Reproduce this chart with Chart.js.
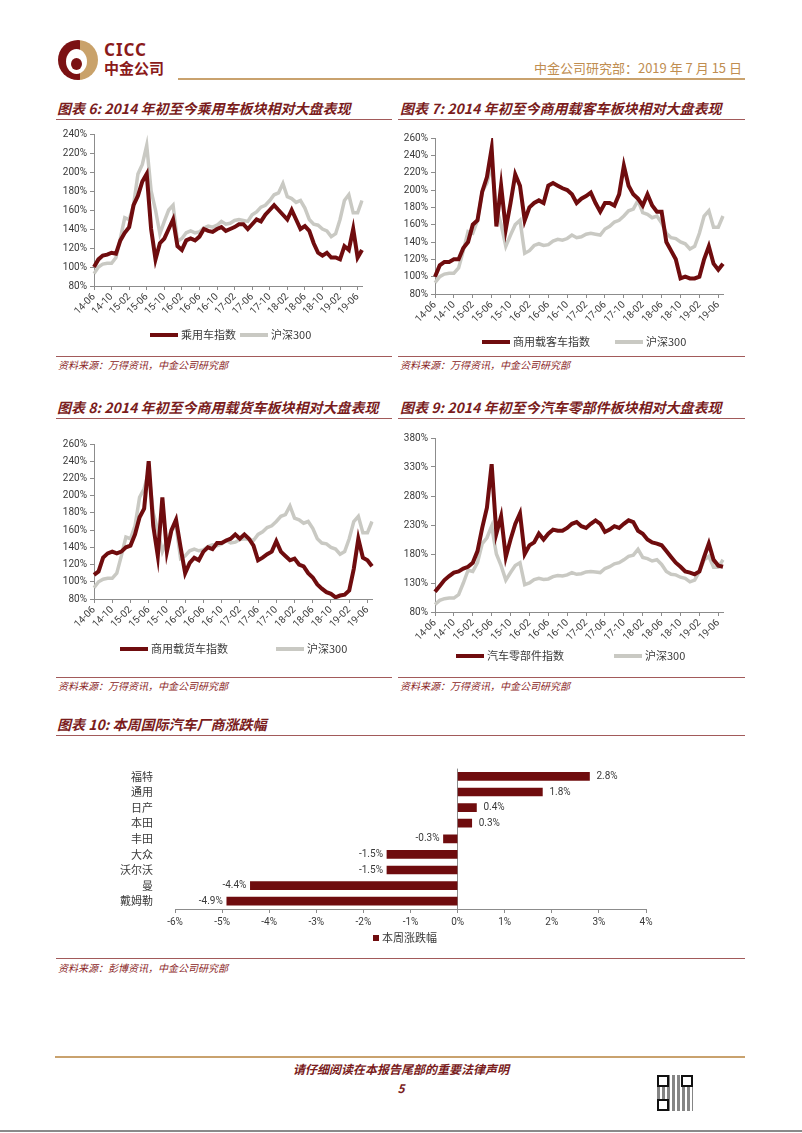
<!DOCTYPE html>
<html>
<head>
<meta charset="utf-8">
<script src="https://cdn.jsdelivr.net/npm/chart.js@4.4.0/dist/chart.umd.min.js"></script>
<style>
  body { margin: 0; width: 802px; height: 1133px; position: relative; background: #fff; overflow: hidden;
         font-family: "Noto Sans CJK SC", "Noto Sans", sans-serif; }
  .abs { position: absolute; }
  .title { position: absolute; font-size: 14px; font-style: italic; font-weight: bold; color: #7a1c1c; white-space: nowrap; line-height: 18px; }
  .rule { position: absolute; height: 1px; background: #a25a5a; }
  .src { position: absolute; font-size: 10px; font-style: italic; color: #8a2525; white-space: nowrap; line-height: 14px; }
  .box { position: absolute; }
</style>
</head>
<body>

<!-- header -->
<div class="abs" style="left:58px;top:40px;width:40px;height:40px;border-radius:50%;background:linear-gradient(90deg,#7b1113 0 55%,#c9a26a 55% 100%)"></div>
<div class="abs" style="left:66px;top:49px;width:21px;height:25px;border-radius:50%;background:#fff"></div>
<div class="abs" style="left:71px;top:58px;width:11px;height:12px;border-radius:50%;background:#7b1113"></div>
<div class="abs" style="left:104px;top:38px;font:bold 17px 'Noto Sans','Noto Sans CJK SC';color:#8b1a1a;letter-spacing:1px">CICC</div>
<div class="abs" style="left:104px;top:57px;font:bold 15px 'Noto Sans CJK SC';color:#8b1a1a">中金公司</div>
<div class="abs" style="right:60px;top:58px;font-size:13px;color:#c08d50;white-space:nowrap">中金公司研究部：2019 年 7 月 15 日</div>
<div class="abs" style="left:178px;top:78px;width:567px;height:2px;background:#c9a26e"></div>

<!-- titles and rules -->
<div class="title" style="left:57px;top:99px">图表 6: 2014 年初至今乘用车板块相对大盘表现</div>
<div class="rule" style="left:56px;top:119px;width:336px"></div>
<div class="title" style="left:400px;top:99px">图表 7: 2014 年初至今商用载客车板块相对大盘表现</div>
<div class="rule" style="left:398px;top:119px;width:347px"></div>

<div class="rule" style="left:56px;top:356px;width:336px"></div>
<div class="src" style="left:58px;top:358px">资料来源：万得资讯，中金公司研究部</div>
<div class="rule" style="left:398px;top:356px;width:347px"></div>
<div class="src" style="left:400px;top:358px">资料来源：万得资讯，中金公司研究部</div>

<div class="title" style="left:57px;top:398px">图表 8: 2014 年初至今商用载货车板块相对大盘表现</div>
<div class="rule" style="left:56px;top:418px;width:336px"></div>
<div class="title" style="left:400px;top:398px">图表 9: 2014 年初至今汽车零部件板块相对大盘表现</div>
<div class="rule" style="left:398px;top:418px;width:347px"></div>

<div class="rule" style="left:56px;top:677px;width:336px"></div>
<div class="src" style="left:58px;top:679px">资料来源：万得资讯，中金公司研究部</div>
<div class="rule" style="left:398px;top:677px;width:347px"></div>
<div class="src" style="left:400px;top:679px">资料来源：万得资讯，中金公司研究部</div>

<div class="title" style="left:57px;top:715px">图表 10: 本周国际汽车厂商涨跌幅</div>
<div class="rule" style="left:56px;top:735px;width:689px"></div>
<div class="rule" style="left:56px;top:958px;width:689px"></div>
<div class="src" style="left:58px;top:961px">资料来源：彭博资讯，中金公司研究部</div>

<!-- chart boxes -->
<div class="box" id="b6"><canvas id="c6"></canvas></div>
<div class="box" id="b7"><canvas id="c7"></canvas></div>
<div class="box" id="b8"><canvas id="c8"></canvas></div>
<div class="box" id="b9"><canvas id="c9"></canvas></div>
<div class="box" id="b10"><canvas id="c10"></canvas></div>

<!-- footer -->
<div class="abs" style="left:55px;top:1056px;width:690px;height:2px;background:#c9a26e"></div>
<div class="abs" style="left:0;width:802px;top:1060px;text-align:center;font-size:12px;font-weight:bold;font-style:italic;color:#7a1c1c">请仔细阅读在本报告尾部的重要法律声明</div>
<div class="abs" style="left:0;width:802px;top:1079px;text-align:center;font-size:12px;font-weight:bold;font-style:italic;color:#7a1c1c">5</div>
<div class="abs" style="left:657px;top:1075px;width:36px;height:36px;background:repeating-linear-gradient(90deg,#222 0 3px,#fff 3px 5px),#fff;opacity:0.55"></div>
<div class="abs" style="left:657px;top:1075px;width:8px;height:8px;border:2px solid #111;background:#fff"></div>
<div class="abs" style="left:681px;top:1075px;width:8px;height:8px;border:2px solid #111;background:#fff"></div>
<div class="abs" style="left:657px;top:1099px;width:8px;height:8px;border:2px solid #111;background:#fff"></div>
<div class="abs" style="left:0;top:1130px;width:802px;height:2px;background:#8a8a8a"></div>

<script>
// month labels on the date axis (tick labels shown every 4 months)
const months = [
  '14-06','14-07','14-08','14-09','14-10','14-11','14-12',
  '15-01','15-02','15-03','15-04','15-05','15-06','15-07','15-08','15-09','15-10','15-11','15-12',
  '16-01','16-02','16-03','16-04','16-05','16-06','16-07','16-08','16-09','16-10','16-11','16-12',
  '17-01','17-02','17-03','17-04','17-05','17-06','17-07','17-08','17-09','17-10','17-11','17-12',
  '18-01','18-02','18-03','18-04','18-05','18-06','18-07','18-08','18-09','18-10','18-11','18-12',
  '19-01','19-02','19-03','19-04','19-05','19-06','19-07'
];

// 沪深300 (same in all four charts)
const hs300 = [
  93,100,103,104,104,110,130,
  152,150,165,198,208,228,180,160,135,148,160,165,
  127,130,136,138,136,137,141,143,142,144,148,145,
  146,149,150,149,148,155,158,163,165,170,176,178,
  188,174,172,168,170,162,150,145,144,140,138,132,
  135,150,170,176,157,157,170
];

// 乘用车指数
const passengerIdx = [
  100,108,112,113,115,114,128,
  136,142,165,175,190,198,140,108,125,130,140,150,
  122,118,128,130,128,132,140,138,137,140,142,138,
  140,142,145,145,140,145,150,148,155,160,165,160,
  155,150,160,150,140,143,138,125,115,112,115,110,
  110,108,122,118,140,110,118
];

// 商用载客车指数
const busIdx = [
  100,113,117,117,120,120,133,
  140,160,165,198,215,248,158,205,155,185,218,205,
  165,180,185,188,185,205,208,205,202,200,195,185,
  190,193,197,185,175,185,185,182,195,228,205,195,
  190,182,195,182,175,175,140,130,120,98,100,98,
  98,100,120,135,115,108,115
];

// 商用载货车指数
const truckIdx = [
  108,112,128,133,135,133,135,
  140,142,155,175,185,240,165,130,198,135,160,172,
  140,110,122,128,125,135,140,138,145,145,148,150,
  155,150,155,150,142,125,128,132,135,147,135,130,
  125,127,120,118,110,105,97,92,88,86,82,84,
  85,90,115,150,128,125,118
];

// 汽车零部件指数
const partsIdx = [
  115,125,135,142,148,150,155,
  158,165,185,225,260,335,215,245,175,205,232,250,
  180,195,200,215,205,215,222,220,220,225,232,235,
  228,225,232,238,232,218,222,228,225,232,238,235,
  220,215,205,200,198,195,185,175,165,158,150,148,
  145,150,175,198,170,160,158
];

// 图表10
const makers = ['福特','通用','日产','本田','丰田','大众','沃尔沃','曼','戴姆勒'];
const weekChange = [2.8, 1.8, 0.4, 0.3, -0.3, -1.5, -1.5, -4.4, -4.9];

const RED = '#6f0c0e';
const GRAY = '#c9c9c3';
const AXIS = '#8c8c8c';
const TXT = '#3a3a3a';
const XH = 40;

Chart.defaults.font.family = '"Noto Sans CJK SC", "Noto Sans", sans-serif';
Chart.defaults.color = TXT;

// simple legend: swatch + label for each dataset, laid out left to right
const rowLegend = {
  id: 'rowLegend',
  afterDraw(chart, args, opts) {
    const ctx = chart.ctx;
    let x = opts.x;
    ctx.save();
    ctx.font = '11px "Noto Sans CJK SC"';
    ctx.textBaseline = 'middle';
    chart.data.datasets.forEach(ds => {
      ctx.fillStyle = chart.config.type === 'line' ? ds.borderColor : ds.backgroundColor;
      ctx.fillRect(x, opts.y - opts.sh / 2, opts.sw, opts.sh);
      x += opts.sw + 3;
      ctx.fillStyle = TXT;
      ctx.fillText(ds.label, x, opts.y);
      x += ctx.measureText(ds.label).width + opts.gap;
    });
    ctx.restore();
  }
};

function place(boxId, box) {
  const el = document.getElementById(boxId);
  el.style.left = box.x + 'px';
  el.style.top = box.y + 'px';
  el.style.width = box.w + 'px';
  el.style.height = box.h + 'px';
}

function lineChart(n, box, plot, yMin, yMax, yStep, label, values, leg) {
  place('b' + n, box);
  return new Chart(document.getElementById('c' + n), {
    type: 'line',
    data: {
      labels: months,
      datasets: [
        { label: label, data: values, borderColor: RED, borderWidth: 4, pointRadius: 0, tension: 0 },
        { label: '沪深300', data: hs300, borderColor: GRAY, borderWidth: 3.5, pointRadius: 0, tension: 0 }
      ]
    },
    options: {
      responsive: true,
      maintainAspectRatio: false,
      animation: false,
      layout: { padding: { top: plot.t - box.y, right: box.x + box.w - plot.r, bottom: box.y + box.h - plot.b - XH, left: 0 } },
      plugins: { legend: { display: false }, tooltip: { enabled: false }, rowLegend: leg },
      scales: {
        x: {
          grid: { drawOnChartArea: false, tickLength: 4, color: AXIS },
          border: { color: AXIS },
          ticks: {
            autoSkip: false, maxRotation: 45, minRotation: 45, padding: 1,
            font: { size: 10, family: 'Roboto' }, color: TXT,
            callback: function (v, i) { return i % 4 === 0 ? this.getLabelForValue(v) : null; }
          },
          afterFit: s => { s.height = XH; }
        },
        y: {
          min: yMin, max: yMax,
          grid: { drawOnChartArea: false, tickLength: 4, color: AXIS },
          border: { color: AXIS },
          ticks: { stepSize: yStep, padding: 3, font: { size: 10, family: 'Roboto' }, color: TXT, callback: v => v + '%' },
          afterFit: s => { s.width = plot.l - box.x; }
        }
      }
    },
    plugins: [rowLegend]
  });
}

lineChart(6, { x: 55, y: 124, w: 335, h: 230 }, { l: 94, t: 134, r: 362, b: 286 },
  80, 240, 20, '乘用车指数', passengerIdx, { x: 95, y: 211, sw: 28, sh: 4, gap: 4 });
lineChart(7, { x: 395, y: 124, w: 345, h: 230 }, { l: 435, t: 138, r: 723, b: 294 },
  80, 260, 20, '商用载客车指数', busIdx, { x: 87, y: 218, sw: 28, sh: 4, gap: 25 });
lineChart(8, { x: 55, y: 430, w: 335, h: 232 }, { l: 94, t: 444, r: 372, b: 599 },
  80, 260, 20, '商用载货车指数', truckIdx, { x: 65, y: 219, sw: 28, sh: 4, gap: 48 });
lineChart(9, { x: 395, y: 424, w: 345, h: 240 }, { l: 435, t: 438, r: 723, b: 612 },
  80, 380, 50, '汽车零部件指数', partsIdx, { x: 61, y: 232, sw: 28, sh: 4, gap: 50 });

// value labels at the end of each bar
const barLabels = {
  id: 'barLabels',
  afterDatasetsDraw(chart) {
    const ctx = chart.ctx;
    const vals = chart.data.datasets[0].data;
    ctx.save();
    ctx.font = '10px Roboto';
    ctx.fillStyle = TXT;
    ctx.textBaseline = 'middle';
    chart.getDatasetMeta(0).data.forEach((bar, i) => {
      const v = vals[i];
      ctx.textAlign = v < 0 ? 'right' : 'left';
      ctx.fillText(v.toFixed(1) + '%', bar.x + (v < 0 ? -4 : 7), bar.y);
    });
    ctx.restore();
  }
};

const box10 = { x: 60, y: 740, w: 620, h: 210 };
const plot10 = { l: 175, t: 746, r: 646, b: 909 };
place('b10', box10);
new Chart(document.getElementById('c10'), {
  type: 'bar',
  data: {
    labels: makers,
    datasets: [{ label: '本周涨跌幅', data: weekChange, backgroundColor: RED, barThickness: 8 }]
  },
  options: {
    indexAxis: 'y',
    responsive: true,
    maintainAspectRatio: false,
    animation: false,
    layout: { padding: { top: plot10.t - box10.y, right: box10.x + box10.w - plot10.r, bottom: box10.y + box10.h - plot10.b - 20, left: 0 } },
    plugins: { legend: { display: false }, tooltip: { enabled: false }, rowLegend: { x: 313, y: 198, sw: 6, sh: 6, gap: 0 } },
    scales: {
      x: {
        min: -6, max: 4,
        grid: { color: c => (c.tick && c.tick.value === 0 ? AXIS : 'rgba(0,0,0,0)'), tickColor: AXIS, tickLength: 4 },
        border: { color: AXIS },
        ticks: { stepSize: 1, font: { size: 10, family: 'Roboto' }, color: TXT, callback: v => v + '%' },
        afterFit: s => { s.height = 20; }
      },
      y: {
        grid: { display: false, drawTicks: false },
        border: { display: false },
        ticks: { autoSkip: false, padding: 22, font: { size: 11 }, color: TXT },
        afterFit: s => { s.width = plot10.l - box10.x; }
      }
    }
  },
  plugins: [barLabels, rowLegend]
});
</script>
</body>
</html>
